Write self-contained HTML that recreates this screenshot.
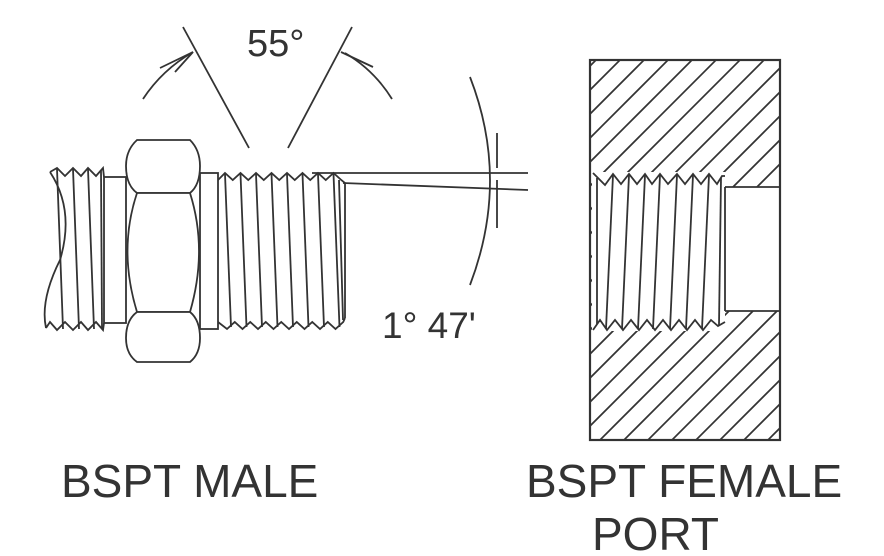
<!DOCTYPE html>
<html><head><meta charset="utf-8"><style>
html,body{margin:0;padding:0;background:#fff;width:884px;height:556px;overflow:hidden}
svg{display:block}
text{font-family:"Liberation Sans",sans-serif;fill:#333}
</style></head><body>
<svg id="s" width="884" height="556" viewBox="0 0 884 556" xmlns="http://www.w3.org/2000/svg" stroke="#333" stroke-width="1.8" fill="none" stroke-linejoin="miter">
<defs>
<clipPath id="bx"><rect x="590" y="60" width="190" height="380"/></clipPath>
</defs>
<g id="hatch" clip-path="url(#bx)" stroke-width="1.7"></g>
<path d="M592,172 L725,172 L725,187 L781,187 L781,311 L725,311 L725,331 L592,331 Z" fill="#fff" stroke="none"/>
<rect x="590" y="60" width="190" height="380" stroke-width="2.2"/>
<line x1="725" y1="187" x2="780" y2="187"/>
<line x1="725" y1="311" x2="780" y2="311"/>
<line x1="725" y1="187" x2="725" y2="311"/>
<g id="fem"></g>
<g id="male"></g>
<path d="M137,140 L190,140 Q200,150 200,166 Q200,185 190,193 L137,193 Q126,185 126,166 Q126,150 137,140 Z" fill="#fff"/>
<path d="M137,193 L190,193 Q208,250 190,312 L137,312 Q118,250 137,193 Z" fill="#fff"/>
<path d="M137,312 L190,312 Q200,320 200,338 Q200,354 190,362 L137,362 Q126,354 126,338 Q126,320 137,312 Z" fill="#fff"/>
<rect x="104" y="177" width="22" height="146" fill="#fff"/>
<rect x="200" y="173" width="18" height="156" fill="#fff"/>
<line x1="183" y1="27" x2="249" y2="148"/>
<line x1="352" y1="27" x2="288" y2="148"/>
<path d="M143,99 Q162,70 193,52"/>
<path d="M160,68 L193,52 L175,72"/>
<path d="M345,53 Q374,70 392,99"/>
<path d="M341,52 L373,67"/>
<line x1="312" y1="173" x2="528" y2="173"/>
<line x1="343" y1="183" x2="528" y2="190"/>
<path d="M470,77 Q510,180 470,285"/>
<line x1="497" y1="133" x2="497" y2="168"/>
<line x1="497" y1="180" x2="497" y2="228"/>
<text x="247" y="56" font-size="38" stroke="none">55°</text>
<text x="382" y="338" font-size="37" stroke="none">1° 47'</text>
<text x="61" y="497" font-size="46" stroke="none">BSPT MALE</text>
<text x="526" y="497" font-size="46" stroke="none">BSPT FEMALE</text>
<text x="592" y="550" font-size="46" stroke="none">PORT</text>
</svg>
<script>
var NS="http://www.w3.org/2000/svg";
function el(p,t,a){var e=document.createElementNS(NS,t);for(var k in a)e.setAttribute(k,a[k]);p.appendChild(e);return e;}
var h=document.getElementById('hatch');
for(var c=440;c<1300;c+=24){el(h,'line',{x1:c-440,y1:440,x2:c,y2:0});}
var m=document.getElementById('male');
function zig(x0,x1,yc,yr,step,off){var d='M'+x0+','+yr;for(var x=x0+off;x<x1;x+=step){d+=' L'+x+','+yc+' L'+Math.min(x+step/2,x1)+','+yr;}return d;}
el(m,'path',{d:zig(218,345,173,180,15.5,7)+' L345,183 L345,318',fill:'none'});
el(m,'path',{d:zig(218,345,329,322,15.5,9)+' L345,318',fill:'none'});
for(var x=225;x<340;x+=15.5){el(m,'line',{x1:x,y1:174,x2:x+6,y2:327});}
el(m,'line',{x1:339,y1:180,x2:343,y2:320});
el(m,'path',{d:'M50,172 L57,168 L65,176 L73,168 L81,176 L88,168 L96,176 L103,168 L104,177'});
el(m,'path',{d:'M46,328 L50,322 L57,330 L65,322 L73,330 L81,322 L88,330 L96,322 L103,330 L104,323'});
el(m,'path',{d:'M50,172 Q75,210 60,260 Q40,300 46,328'});
[57,73,88].forEach(function(x){el(m,'line',{x1:x,y1:169,x2:x+6,y2:329});});
el(m,'line',{x1:101,y1:170,x2:102,y2:328});
var f=document.getElementById('fem');
el(f,'path',{d:'M593,173 L605,185 L613,174 L621,184 L629,174 L637,184 L645,174 L652,184 L660,174 L668,184 L677,174 L685,184 L693,174 L701,184 L709,174 L717,184 L722,176 L725,176'});
el(f,'path',{d:'M593,330 L600,320 L607,330 L615,320 L623,330 L631,320 L639,330 L647,320 L655,330 L663,320 L671,330 L679,320 L687,330 L695,320 L703,330 L711,320 L718,326 L725,322'});
el(f,'line',{x1:597,y1:178,x2:597,y2:324});
[613,629,645,660,677,693,709].forEach(function(x){el(f,'line',{x1:x,y1:175,x2:x-7,y2:329});});
el(f,'line',{x1:721,y1:178,x2:719,y2:325});
</script>
</body></html>
